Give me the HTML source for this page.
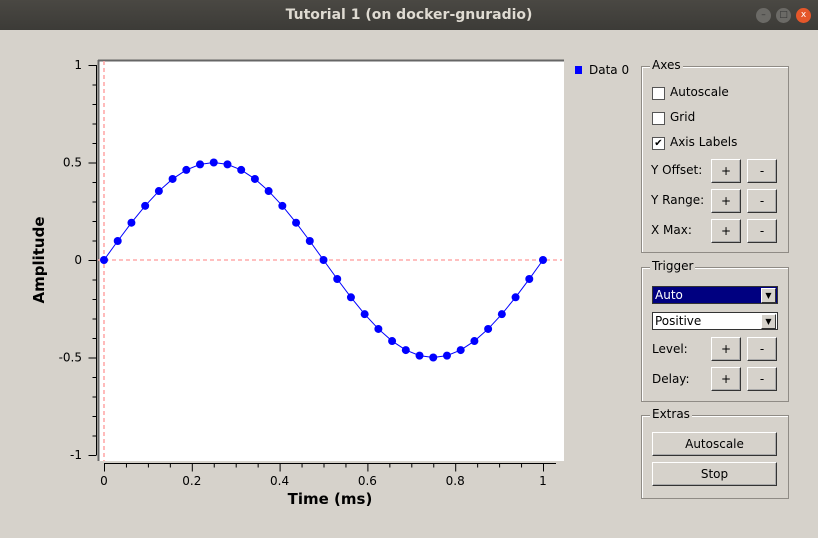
<!DOCTYPE html>
<html><head><meta charset="utf-8"><style>
body{margin:0;width:818px;height:538px;overflow:hidden;background:#d6d2cb;font-family:"DejaVu Sans","Liberation Sans",sans-serif;}
.titlebar{position:absolute;left:0;top:0;width:818px;height:30px;background:linear-gradient(#4a4843,#3c3b37);color:#dfdbd2;font-size:14px;font-weight:bold;text-align:center;line-height:30px;}
.wbtn{position:absolute;top:8px;width:15px;height:15px;border-radius:50%;background:#6b6a66;font-size:9px;line-height:15px;text-align:center;color:#333;}
.group{position:absolute;border:1px solid #8f8b85;box-shadow:1px 1px 0 #fff inset;}
.group .lg{position:absolute;top:-9px;left:8px;background:#d6d2cb;padding:0 2px;font-size:12px;color:#000;}
.lbl{position:absolute;font-size:12px;color:#000;}
.btn{position:absolute;background:#d6d2cb;border:1px solid #fff;border-right-color:#333;border-bottom-color:#333;box-shadow:-1px -1px 0 #aaa inset;font-size:12px;text-align:center;color:#000;}
.cb{position:absolute;width:11px;height:11px;background:#fff;border:1px solid #555;font-size:10px;line-height:11px;text-align:center;}
.combo{position:absolute;height:16px;border:1px solid #333;background:#fff;font-size:12px;line-height:16px;padding-left:2px;}
.arr{position:absolute;right:1px;top:1px;width:13px;height:13px;background:#d6d2cb;border:1px solid #fff;border-right-color:#333;border-bottom-color:#333;font-size:8px;line-height:13px;text-align:center;color:#000;}
</style></head><body>
<div class="titlebar">Tutorial 1 (on docker-gnuradio)</div>
<div class="wbtn" style="left:756px">–</div>
<div class="wbtn" style="left:776px">□</div>
<div class="wbtn" style="left:796px;background:#e5572a;color:#fff">x</div>

<svg id="chart" width="818" height="538" style="position:absolute;left:0;top:0"></svg>

<div style="position:absolute;left:575px;top:63px;font-size:12px"><span style="display:inline-block;width:7px;height:8px;background:#00f;margin-right:7px"></span>Data 0</div>

<div class="group" style="left:641px;top:66px;width:146px;height:185px"><span class="lg">Axes</span></div>
<div class="cb" style="left:652px;top:87px"></div><div class="lbl" style="left:670px;top:85px">Autoscale</div>
<div class="cb" style="left:652px;top:112px"></div><div class="lbl" style="left:670px;top:110px">Grid</div>
<div class="cb" style="left:652px;top:137px">✔</div><div class="lbl" style="left:670px;top:135px">Axis Labels</div>
<div class="lbl" style="left:651px;top:163px">Y Offset:</div>
<div class="btn" style="left:711px;top:159px;width:28px;height:22px;line-height:22px">+</div>
<div class="btn" style="left:747px;top:159px;width:28px;height:22px;line-height:22px">-</div>
<div class="lbl" style="left:651px;top:193px">Y Range:</div>
<div class="btn" style="left:711px;top:189px;width:28px;height:22px;line-height:22px">+</div>
<div class="btn" style="left:747px;top:189px;width:28px;height:22px;line-height:22px">-</div>
<div class="lbl" style="left:651px;top:223px">X Max:</div>
<div class="btn" style="left:711px;top:219px;width:28px;height:22px;line-height:22px">+</div>
<div class="btn" style="left:747px;top:219px;width:28px;height:22px;line-height:22px">-</div>

<div class="group" style="left:641px;top:267px;width:146px;height:133px"><span class="lg">Trigger</span></div>
<div class="combo" style="left:652px;top:286px;width:122px;background:#000080;color:#fff">Auto<div class="arr">▼</div></div>
<div class="combo" style="left:652px;top:312px;width:122px">Positive<div class="arr">▼</div></div>
<div class="lbl" style="left:652px;top:342px">Level:</div>
<div class="btn" style="left:711px;top:337px;width:28px;height:22px;line-height:22px">+</div>
<div class="btn" style="left:747px;top:337px;width:28px;height:22px;line-height:22px">-</div>
<div class="lbl" style="left:652px;top:372px">Delay:</div>
<div class="btn" style="left:711px;top:367px;width:28px;height:22px;line-height:22px">+</div>
<div class="btn" style="left:747px;top:367px;width:28px;height:22px;line-height:22px">-</div>

<div class="group" style="left:641px;top:415px;width:146px;height:82px"><span class="lg">Extras</span></div>
<div class="btn" style="left:652px;top:432px;width:123px;height:22px;line-height:22px">Autoscale</div>
<div class="btn" style="left:652px;top:462px;width:123px;height:22px;line-height:22px">Stop</div>

<script>
const xValues=[0,0.03125,0.0625,0.09375,0.125,0.15625,0.1875,0.21875,0.25,0.28125,0.3125,0.34375,0.375,0.40625,0.4375,0.46875,0.5,0.53125,0.5625,0.59375,0.625,0.65625,0.6875,0.71875,0.75,0.78125,0.8125,0.84375,0.875,0.90625,0.9375,0.96875,1];
const yValues=[0,0.0975,0.1913,0.2778,0.3536,0.4157,0.4619,0.4904,0.5,0.4904,0.4619,0.4157,0.3536,0.2778,0.1913,0.0975,0,-0.0975,-0.1913,-0.2778,-0.3536,-0.4157,-0.4619,-0.4904,-0.5,-0.4904,-0.4619,-0.4157,-0.3536,-0.2778,-0.1913,-0.0975,0];
const xTicks=[0,0.2,0.4,0.6,0.8,1];
const xTickLabels=["0","0.2","0.4","0.6","0.8","1"];
const yTicks=[1,0.5,0,-0.5,-1];
const yTickLabels=["1","0.5","0","-0.5","-1"];
const NS="http://www.w3.org/2000/svg";
const svg=document.getElementById('chart');
const X=v=>104+v*439;
const Y=v=>260-v*195;
function mk(t,a,p){const e=document.createElementNS(NS,t);for(const k in a)e.setAttribute(k,a[k]);(p||svg).appendChild(e);return e;}
const bg=mk('rect',{x:98,y:60,width:466,height:401,fill:'#fff'});


mk('line',{x1:98.5,y1:60,x2:98.5,y2:461,stroke:'#666',"stroke-width":2});
mk('line',{x1:98,y1:60.5,x2:564,y2:60.5,stroke:'#666',"stroke-width":2});
const h=mk('line',{x1:98,y1:Y(0),x2:562,y2:Y(0),stroke:'#ffaaaa',"stroke-dasharray":'4,3',"stroke-width":1.6});


const v=mk('line',{x1:X(0),y1:61,x2:X(0),y2:461,stroke:'#ffaaaa',"stroke-dasharray":'4,3',"stroke-width":1.6});


mk('line',{x1:96.5,y1:Y(1),x2:96.5,y2:Y(-1),stroke:'#000'});
for(let i=-10;i<=10;i++){const val=i/10;const len=(i%5===0)?8:4;mk('line',{x1:96.5-len,y1:Y(val)+0.5,x2:96.5,y2:Y(val)+0.5,stroke:'#000'});}
yTicks.forEach((t,i)=>{const e=mk('text',{x:82,y:Y(t)+4,"text-anchor":'end',"font-size":12,fill:'#000'});e.textContent=yTickLabels[i];

});
mk('line',{x1:X(0),y1:463.5,x2:556,y2:463.5,stroke:'#000'});
for(let i=0;i<=20;i++){const val=i/20;const len=(i%4===0)?8:4;mk('line',{x1:X(val)+0.5,y1:463.5,x2:X(val)+0.5,y2:463.5+len,stroke:'#000'});}
xTicks.forEach((t,i)=>{const e=mk('text',{x:X(t),y:485,"text-anchor":'middle',"font-size":12,fill:'#000'});e.textContent=xTickLabels[i];

});
const xt=mk('text',{x:330,y:504,"text-anchor":'middle',"font-size":15,"font-weight":'bold',fill:'#000'});xt.textContent='Time (ms)';


const yt=mk('text',{x:0,y:0,"text-anchor":'middle',"font-size":15,"font-weight":'bold',fill:'#000',transform:'translate(44,260) rotate(-90)'});yt.textContent='Amplitude';


const pl=mk('polyline',{points:xValues.map((x,i)=>X(x)+','+Y(yValues[i])).join(' '),fill:'none',stroke:'#00f',"stroke-width":1});


xValues.forEach((x,i)=>{const c=mk('circle',{cx:X(x),cy:Y(yValues[i]),r:4,fill:'#00f'});

});
</script>
</body></html>
